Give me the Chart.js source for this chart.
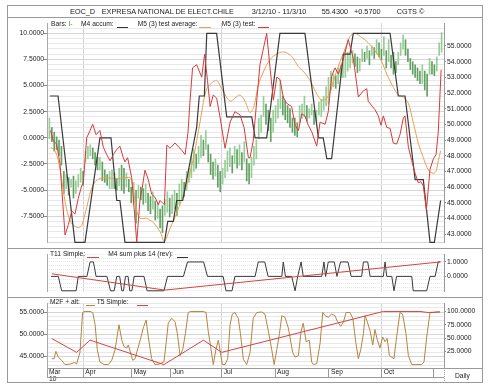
<!DOCTYPE html>
<html>
<head>
<meta charset="utf-8">
<title>EOC_D</title>
<script src="https://cdn.jsdelivr.net/npm/chart.js@4.4.1/dist/chart.umd.min.js"></script>
<style>
  body { margin: 0; background: #fff; font-family: 'Liberation Sans', Arial, sans-serif; color: #222; }
  #frame { position: absolute; left: 7px; top: 5px; width: 474px; height: 376px; border: 1px solid #9a9a9a; }
  .t, .lg { position: absolute; white-space: nowrap; line-height: 1; }
  .t { font-size: 7.3px; top: 7.5px; }
  .lg { font-size: 6.7px; }
  .u { position: absolute; height: 0; border-top: 1px solid; }
  .hl { position: absolute; height: 0; border-top: 1px solid #9a9a9a; }
  canvas { position: absolute; }
</style>
</head>
<body>
<div id="frame"></div>
<div class="hl" style="left:8px;top:17px;width:474px"></div>
<canvas id="c1" width="474" height="230" style="left:8px;top:18px"></canvas>
<div class="hl" style="left:8px;top:248px;width:474px"></div>
<canvas id="c2" width="474" height="48" style="left:8px;top:249px"></canvas>
<div class="hl" style="left:8px;top:297px;width:474px"></div>
<canvas id="c3" width="474" height="85" style="left:8px;top:298px"></canvas>
<div class="hl" style="left:47px;top:377px;width:397px"></div>
<div class="hl" style="left:444px;top:368px;width:38px"></div>
<div style="position:absolute;left:444px;top:368px;height:15px;border-left:1px dotted #9a9a9a"></div>

<div class="t" style="left:70px">EOC_D</div>
<div class="t" style="left:101.7px">EXPRESA NATIONAL DE ELECT.CHILE</div>
<div class="t" style="left:251.7px">3/12/10 - 11/3/10</div>
<div class="t" style="left:321.7px">55.4300</div>
<div class="t" style="left:354px">+0.5700</div>
<div class="t" style="left:396.7px">CGTS ©</div>

<div class="lg" style="left:51px;top:21px">Bars: <span style="color:#3f8f3f">I-</span></div>
<div class="lg" style="left:81px;top:21px">M4 accum:</div><div class="u" style="left:117px;top:26.5px;width:11px;border-color:#333"></div>
<div class="lg" style="left:137.7px;top:21px">M5 (3) test average:</div><div class="u" style="left:199px;top:26.5px;width:12px;border-color:#eba050"></div>
<div class="lg" style="left:221.7px;top:21px">M5 (3) test:</div><div class="u" style="left:258px;top:26.5px;width:11px;border-color:#d63a3a"></div>

<div class="lg" style="left:50px;top:251px">T11 Simple:</div><div class="u" style="left:87px;top:256.5px;width:12px;border-color:#d04545"></div>
<div class="lg" style="left:108.3px;top:251px">M4 sum plus 14 (rev):</div><div class="u" style="left:177px;top:256.5px;width:11px;border-color:#333"></div>

<div class="lg" style="left:50px;top:299px">M2F + alt:</div><div class="u" style="left:86px;top:304.5px;width:9px;border-color:#b5843f"></div>
<div class="lg" style="left:96.7px;top:299px">T5 Simple:</div><div class="u" style="left:137px;top:304.5px;width:11px;border-color:#d04545"></div>

<div class="lg" style="left:455px;top:372.5px">Daily</div>

<script>
// x unit = trading day since 3/12/10
const monthDays = [0, 15.1, 35.2, 51.5, 72.6, 94.8, 117.2, 139.1, 160.8];
const monthNames = ['Mar', 'Apr', 'May', 'Jun', 'Jul', 'Aug', 'Sep', 'Oct', ''];
const yearLabel = '10';
const quarterDays = [15.1, 72.6, 139.1];

// price bars (right axis), one per day starting at day 1
const firstBarDay = 1;
const barHigh = [
  50.4, 49.8, 49.5, 49.2, 49.0, 48.6, 47.0, 46.8, 46.6, 46.5,
  46.7, 46.4, 46.8, 47.2, 47.0, 48.3, 48.6, 48.7, 48.5, 48.2,
  47.9, 47.9, 47.6, 47.1, 46.8, 47.0, 47.1, 46.9, 46.5, 47.2,
  47.4, 47.2, 46.9, 46.5, 46.0, 46.3, 45.8, 46.1, 46.0, 45.9,
  46.2, 45.6, 45.4, 45.7, 45.1, 45.0, 44.6, 44.8, 45.2, 45.7,
  45.3, 45.5, 45.8, 45.6, 46.2, 46.5, 46.3, 47.0, 47.2, 48.0,
  48.4, 48.1, 48.6, 49.3, 49.0, 49.6, 48.7, 48.1, 47.6, 47.8,
  47.4, 47.0, 47.2, 47.7, 48.3, 48.5, 48.0, 48.6, 48.4, 48.7,
  48.2, 48.9, 47.8, 47.5, 47.9, 48.6, 49.0, 50.4, 50.6, 51.8,
  51.3, 50.9, 50.4, 50.9, 51.2, 51.6, 52.8, 51.8, 51.5, 51.2,
  51.0, 50.4, 50.4, 50.1, 51.2, 51.3, 51.8, 51.2, 51.0, 51.3,
  50.9, 50.9, 51.4, 51.6, 51.8, 52.4, 53.0, 53.4, 53.2, 53.1,
  53.6, 53.8, 54.2, 54.8, 54.6, 54.5, 54.7, 54.5, 54.3, 54.2,
  54.8, 54.6, 55.0, 54.7, 55.0, 54.9, 55.4, 55.2, 54.8, 55.6,
  54.7, 55.4, 54.4, 54.6, 54.0, 54.6, 55.2, 55.7, 55.4, 54.8,
  54.2, 54.0, 53.8, 53.6, 53.4, 53.8, 53.4, 53.2, 54.2, 54.0,
  53.8, 54.3, 55.2, 55.85
];
const barLow = [
  49.1, 48.9, 48.3, 48.4, 48.0, 47.4, 45.6, 45.9, 45.5, 46.0,
  45.3, 45.6, 46.0, 46.3, 46.1, 47.6, 47.8, 48.0, 47.8, 47.4,
  47.1, 47.1, 46.4, 46.3, 46.1, 45.9, 45.9, 45.9, 45.8, 46.1,
  45.8, 45.6, 46.0, 45.7, 45.0, 44.9, 43.7, 45.3, 45.2, 44.9,
  45.0, 44.5, 44.3, 44.6, 43.9, 44.0, 43.4, 43.1, 44.2, 44.4,
  44.1, 44.3, 44.6, 44.2, 44.9, 45.2, 45.4, 45.8, 46.3, 46.6,
  47.0, 47.2, 47.5, 47.9, 48.0, 48.4, 47.6, 46.8, 46.5, 46.7,
  46.0, 45.7, 46.2, 46.6, 47.0, 47.3, 46.9, 47.5, 47.2, 47.4,
  47.1, 47.6, 46.4, 46.2, 46.6, 47.4, 47.8, 49.1, 49.5, 50.5,
  50.0, 49.6, 48.9, 49.5, 50.1, 50.4, 51.0, 50.6, 50.3, 50.1,
  49.8, 49.5, 49.3, 49.2, 50.1, 50.4, 50.5, 50.2, 50.4, 50.6,
  50.0, 50.2, 50.6, 50.5, 50.9, 51.2, 51.3, 52.2, 52.4, 52.3,
  52.6, 53.0, 53.0, 53.0, 53.4, 53.6, 53.9, 53.7, 53.3, 53.4,
  54.0, 54.0, 54.2, 53.8, 54.4, 54.2, 54.5, 54.3, 54.1, 54.4,
  53.6, 54.0, 53.6, 53.2, 53.3, 53.8, 54.4, 54.8, 54.4, 54.0,
  53.5, 53.2, 53.0, 52.8, 52.6, 52.6, 52.2, 51.8, 53.2, 53.2,
  53.1, 53.4, 54.4, 54.6
];

// M4 accum (left axis)
const accumDays = [1.2, 4.6, 11.6, 15.8, 22.0, 26.6, 29.0, 30.3, 32.4, 48.8, 50.2, 52.5, 53.9, 56.4, 62.2, 63.3, 65.4, 66.4, 70.5, 74.7, 85.1, 86.5, 91.3, 96.8, 107.2, 112.8, 114.8, 116.3, 118.3, 123.2, 125.9, 127.3, 142.6, 146.0, 148.8, 153.0, 156.4, 159.2, 161.0, 163.6];
const accumVals = [4, 4, -10, -10, 0, 0, -6, -6, -10, -10, -8, -8, -6, -6, 1, 4, 4, 10, 10, 2, 2, 0, 0, 10, 10, 0, 0, -2, -2, 8, 8, 10, 10, 4, 4, -4, -4, -10, -10, -6];

// M5 (3) test (left axis)
const testDays = [1.5, 2.6, 4.0, 5.4, 7.5, 8.9, 10.3, 11.6, 13.0, 14.4, 15.1, 16.5, 17.9, 19.0, 20.4, 22.0, 23.4, 24.8, 26.2, 27.6, 28.7, 30.3, 31.7, 32.4, 33.5, 35.2, 37.3, 38.7, 39.5, 40.7, 42.1, 43.5, 44.9, 46.3, 47.0, 48.3, 48.8, 49.8, 51.1, 53.2, 56.0, 57.4, 58.6, 59.4, 60.5, 62.2, 64.3, 65.5, 66.7, 67.8, 69.1, 70.5, 71.9, 74.0, 76.1, 78.1, 80.2, 81.9, 83.7, 84.4, 85.7, 88.5, 91.3, 92.7, 94.1, 95.5, 96.8, 98.2, 99.6, 101.7, 103.1, 104.5, 105.9, 107.2, 108.6, 110.0, 112.1, 113.5, 115.6, 116.9, 118.3, 119.7, 121.1, 122.5, 123.9, 125.2, 127.3, 128.7, 129.4, 131.5, 132.9, 133.5, 136.3, 137.7, 138.8, 139.8, 141.2, 142.6, 143.9, 145.3, 146.7, 148.1, 148.8, 150.2, 151.6, 153.0, 154.3, 155.4, 156.4, 157.7, 159.2, 160.6, 161.7, 162.6, 163.8];
const testVals = [0.7, -0.3, -0.6, -2.5, -9.3, -8.3, -7.0, -7.3, -5.8, -4.6, -4.3, 0.0, 0.7, 1.3, 0.3, 0.7, -0.9, -1.6, -2.2, -1.6, -1.2, -0.8, -1.9, -2.3, -1.9, -3.8, -10.0, -5.8, -4.9, -3.1, -4.0, -5.4, -5.7, -6.4, -6.0, -6.3, -6.4, -0.7, -1.0, -0.5, -1.2, -1.6, 0.5, 3.4, 6.7, 7.0, 5.8, 8.0, 5.5, 3.0, 4.1, 3.8, 2.0, -1.0, 1.5, 2.5, 2.2, 1.0, -1.9, -1.9, -0.3, 7.0, 10.0, 6.7, 3.6, 5.8, 5.6, 3.9, 3.3, 3.0, 1.2, 0.7, 2.3, 2.1, 1.2, 0.6, -0.8, 1.5, 1.3, 2.5, 5.9, 6.7, 6.1, 7.0, 8.2, 9.4, 7.6, 5.2, 3.9, 4.5, 4.7, 3.5, 2.7, 2.1, 1.2, 2.1, 1.0, 0.9, -0.5, -0.6, 0.3, 1.9, 2.1, -0.9, -2.2, -3.4, -4.3, -4.2, -4.6, -6.9, -3.0, -2.0, -1.6, 0.5, 6.5];

// M5 (3) test average (left axis)
const avgDays = [1.5, 3.3, 4.7, 6.1, 7.5, 8.9, 10.0, 11.2, 13.0, 14.4, 15.8, 17.2, 18.3, 20.0, 22.0, 24.8, 28.3, 31.7, 34.5, 35.2, 35.9, 37.3, 38.7, 41.4, 42.8, 44.2, 47.0, 48.8, 51.1, 53.9, 58.1, 60.8, 63.6, 65.0, 66.4, 68.2, 70.5, 71.9, 73.3, 76.1, 78.1, 80.2, 82.3, 84.4, 86.0, 87.8, 89.9, 92.7, 96.1, 98.9, 101.7, 104.5, 107.2, 110.0, 112.1, 114.2, 116.3, 118.3, 119.7, 121.8, 123.9, 125.9, 128.0, 130.8, 133.5, 136.3, 139.1, 141.2, 143.9, 146.0, 148.1, 150.2, 152.2, 154.3, 156.4, 158.5, 160.6, 161.7, 162.6, 163.6];
const avgVals = [-0.9, -1.25, -2.2, -4.0, -6.1, -7.5, -8.1, -8.4, -8.6, -8.4, -7.3, -6.0, -5.0, -4.2, -3.9, -3.8, -3.9, -3.85, -3.8, -4.1, -5.0, -7.0, -7.7, -7.7, -7.9, -8.1, -9.0, -9.9, -8.7, -7.2, -4.5, -2.0, 1.5, 3.4, 4.7, 5.2, 5.5, 5.0, 4.4, 3.5, 3.8, 4.1, 3.5, 2.4, 3.0, 5.0, 6.3, 7.5, 8.1, 8.2, 7.8, 6.8, 6.2, 5.2, 4.2, 3.6, 3.8, 4.8, 5.9, 7.3, 8.5, 9.7, 10.0, 9.6, 9.1, 8.35, 7.3, 6.1, 4.85, 4.1, 3.9, 3.3, 1.5, -0.5, -1.9, -3.1, -3.4, -3.2, -2.2, -1.25];

// middle panel: T11 Simple and M4 sum plus 14 (rev)
const t11Days = [2.0, 49.0, 163.4];
const t11Vals = [0.18, -0.95, 1.0];
const sumDays = [1.7, 4.7, 6.1, 12.1, 13.0, 16.6, 17.9, 19.3, 20.4, 24.9, 26.4, 27.9, 29.0, 30.2, 31.1, 31.8, 32.6, 33.7, 34.4, 35.3, 36.2, 40.3, 41.6, 48.6, 50.1, 56.7, 58.4, 65.1, 66.7, 73.2, 74.4, 76.9, 78.1, 86.5, 87.8, 90.5, 91.9, 97.6, 98.2, 99.1, 101.7, 103.1, 104.2, 105.6, 106.5, 114.2, 115.1, 115.8, 116.9, 119.4, 120.5, 122.0, 125.1, 126.4, 130.8, 131.5, 133.3, 134.3, 139.8, 140.5, 141.2, 143.3, 144.2, 145.3, 151.6, 152.2, 157.8, 159.2, 161.3, 162.6, 163.6];
const sumVals = [0, 0, -1, -1, 0, 0, 1, 1, 0, 0, -1, -1, 0, 0, -1, -1, 0, 0, -1, -1, 0, 0, -1, -1, 0, 0, 1, 1, 0, 0, -1, -1, 0, 0, 1, 1, 0, 0, 1, 0, 0, -1, 0, 1, 0, 0, 1, 0, 1, 1, 0, 1, 1, 0, 0, 1, 1, 0, 0, 1, 0, 0, -1, 0, 0, -1, -1, 0, 0, 1, 1];

// bottom panel: M2F + alt and T5 Simple (right axis)
const m2fDays = [2.0, 2.9, 3.7, 4.7, 6.1, 7.5, 9.6, 11.6, 12.3, 13.7, 14.8, 15.8, 17.9, 19.0, 20.0, 20.9, 22.0, 23.7, 25.5, 26.9, 28.3, 29.9, 31.1, 32.0, 33.1, 33.8, 35.6, 36.6, 38.9, 40.0, 41.2, 42.1, 43.5, 44.9, 46.7, 48.6, 49.5, 50.4, 51.8, 53.2, 54.2, 55.3, 56.4, 57.5, 58.7, 59.7, 65.0, 66.1, 67.0, 68.0, 69.1, 70.2, 71.2, 72.9, 74.0, 75.1, 76.1, 77.0, 78.1, 79.5, 80.4, 81.6, 83.0, 84.4, 85.7, 87.2, 89.2, 90.6, 92.0, 93.4, 94.4, 95.5, 96.6, 97.6, 98.9, 100.3, 102.1, 103.1, 104.5, 105.6, 106.5, 107.7, 109.0, 110.0, 110.7, 112.1, 113.5, 114.6, 115.6, 116.9, 118.3, 119.7, 120.7, 122.1, 123.2, 124.3, 125.9, 127.1, 128.4, 129.4, 130.4, 131.5, 132.2, 133.1, 134.3, 135.4, 136.3, 137.3, 138.4, 139.5, 140.5, 141.4, 142.3, 144.2, 145.3, 146.7, 147.8, 149.2, 150.2, 151.6, 153.0, 155.7, 156.7, 157.8, 159.2, 160.6, 162.0, 163.3];
const m2fVals = [11, 11, 25, 14, 8, 0, 1, 4, 1, 23, 98, 100, 100, 98, 75, 28, 5, 0, 0, 8, 28, 75, 46, 34, 31, 37, 8, 11, 49, 69, 84, 52, 11, 0, 1, 5, 40, 78, 87, 81, 58, 17, 28, 58, 98, 100, 100, 98, 63, 34, 0, 28, 46, 0, 0, 11, 75, 95, 98, 87, 58, 10, 0, 23, 87, 98, 99, 95, 63, 28, 0, 28, 58, 92, 89, 69, 23, 14, 17, 63, 78, 43, 46, 5, 0, 2, 40, 98, 92, 89, 95, 92, 81, 72, 80, 98, 98, 87, 40, 11, 28, 58, 92, 81, 63, 37, 66, 46, 31, 52, 43, 49, 17, 11, 52, 98, 95, 58, 17, 0, 0, 0, 5, 52, 98, 98, 99, 99];
const t5Days = [2.0, 12.3, 17.9, 48.6, 65.0, 72.6, 139.8, 155.0, 158.4, 163.3];
const t5Vals = [49, 23, 46, 0, 46, 23, 100, 100, 98, 99];

const FONT = "'Liberation Sans', Arial, sans-serif";
Chart.defaults.font.family = FONT;
Chart.defaults.color = '#222';
const TICK_FONT = { size: 6.8 };

function pts(xs, ys) { return xs.map((x, i) => ({ x: x, y: ys[i] })); }
function near(v, step) { return Math.abs(v / step - Math.round(v / step)) < 1e-6; }
const clear = 'rgba(0,0,0,0)';

function xAxis(withLabels) {
  const ax = {
    type: 'linear', min: 0, max: 165, offset: false,
    afterBuildTicks: s => { s.ticks = monthDays.map(v => ({ value: v })); },
    grid: {
      color: c => (c.tick && quarterDays.includes(c.tick.value)) ? '#d2d2d2' : clear,
      drawTicks: false, offset: false
    },
    border: { display: false },
    ticks: { display: false }
  };
  if (withLabels) {
    ax.afterFit = s => { s.height = 15; };
    ax.grid.drawTicks = true;
    ax.grid.tickLength = 9;
    ax.grid.tickColor = '#9a9a9a';
    ax.border = { display: true, color: '#9a9a9a' };
    ax.ticks = {
      display: true, autoSkip: false, maxRotation: 0, minRotation: 0,
      align: 'start', labelOffset: 2, padding: -8,
      font: { size: 6.7, lineHeight: 1.05 }, color: '#222',
      callback: (v, i) => i === 0 ? [monthNames[0], yearLabel] : monthNames[i]
    };
  } else {
    ax.afterFit = s => { s.height = 0; };
  }
  return ax;
}

function leftAxis(min, max, step, major, labelIf) {
  return {
    position: 'left', min: min, max: max,
    afterFit: s => { s.width = 39; },
    ticks: {
      stepSize: step, autoSkip: false, includeBounds: false, padding: 0,
      font: TICK_FONT, color: '#222',
      callback: v => labelIf(v) ? v.toFixed(4) : ''
    },
    grid: {
      color: c => near(c.tick.value, major) ? '#d6d6d6' : '#e8e8e8',
      tickLength: 3,
      tickColor: c => labelIf(c.tick.value) ? '#888' : clear
    },
    border: { color: '#a8a8a8' }
  };
}

function rightAxis(min, max, step, labelIf, drawGrid) {
  return {
    position: 'right', min: min, max: max,
    afterFit: s => { s.width = 38; },
    ticks: {
      stepSize: step, autoSkip: false, includeBounds: false, padding: 1,
      font: TICK_FONT, color: '#222',
      callback: v => labelIf(v) ? v.toFixed(4) : ''
    },
    grid: {
      drawOnChartArea: drawGrid, color: '#e8e8e8', tickLength: 2,
      tickColor: c => labelIf(c.tick.value) ? '#888' : clear
    },
    border: { color: '#9a9a9a', dash: [1, 1] }
  };
}

const common = {
  responsive: false, animation: false, devicePixelRatio: 1, events: [],
  layout: { autoPadding: false, padding: 0 },
  plugins: { legend: { display: false }, tooltip: { enabled: false } },
  elements: { point: { radius: 0 }, line: { tension: 0 } }
};

const bars = barHigh.map((h, i) => ({ x: firstBarDay + i, y: [barLow[i], h] }));
// up days light green, down days darker green
const barColors = barHigh.map((h, i) => {
  const mid = (h + barLow[i]) / 2;
  const prev = i > 0 ? (barHigh[i - 1] + barLow[i - 1]) / 2 : mid;
  return mid >= prev ? 'rgba(140,200,140,0.9)' : 'rgba(70,145,70,0.85)';
});

new Chart(document.getElementById('c1'), {
  type: 'line',
  data: {
    datasets: [
      { label: 'M5 (3) test', data: pts(testDays, testVals), borderColor: '#d63a3a', borderWidth: 1, yAxisID: 'yL' },
      { label: 'M4 accum', data: pts(accumDays, accumVals), borderColor: '#3a3a3a', borderWidth: 1.2, yAxisID: 'yL' },
      { label: 'M5 (3) test average', data: pts(avgDays, avgVals), borderColor: '#eba050', borderWidth: 1, tension: 0.3, yAxisID: 'yL' },
      { type: 'bar', label: 'Bars', data: bars, backgroundColor: barColors, borderWidth: 0, barThickness: 1, yAxisID: 'yR' }
    ]
  },
  options: Object.assign({}, common, {
    scales: {
      x: xAxis(false),
      yL: leftAxis(-10.06, 10.98, 0.5, 2.5, v => near(v, 2.5) && v > -9.9),
      yR: rightAxis(42.44, 56.46, 1, v => v <= 55, false)
    }
  })
});

new Chart(document.getElementById('c2'), {
  type: 'line',
  data: {
    datasets: [
      { label: 'T11 Simple', data: pts(t11Days, t11Vals), borderColor: '#d04545', borderWidth: 1, yAxisID: 'yR' },
      { label: 'M4 sum plus 14 (rev)', data: pts(sumDays, sumVals), borderColor: '#3a3a3a', borderWidth: 1, yAxisID: 'yR' }
    ]
  },
  options: Object.assign({}, common, {
    scales: {
      x: xAxis(false),
      yL: {
        position: 'left', min: -1.077, max: 1.546,
        afterFit: s => { s.width = 39; },
        ticks: { display: false }, grid: { display: false },
        border: { color: '#a8a8a8' }
      },
      yR: rightAxis(-1.077, 1.546, 0.25, v => v === 0 || v === 1, true)
    }
  })
});

new Chart(document.getElementById('c3'), {
  type: 'line',
  data: {
    datasets: [
      { label: 'T5 Simple', data: pts(t5Days, t5Vals), borderColor: '#d04545', borderWidth: 1, yAxisID: 'yR' },
      { label: 'M2F + alt', data: pts(m2fDays, m2fVals), borderColor: '#b5843f', borderWidth: 1, yAxisID: 'yR' }
    ]
  },
  options: Object.assign({}, common, {
    scales: {
      x: xAxis(true),
      yL: leftAxis(42.44, 57.02, 1, 5, v => near(v, 5)),
      yR: rightAxis(-6.4, 115.75, 25, v => v > 0, false)
    }
  })
});
</script>
</body>
</html>
